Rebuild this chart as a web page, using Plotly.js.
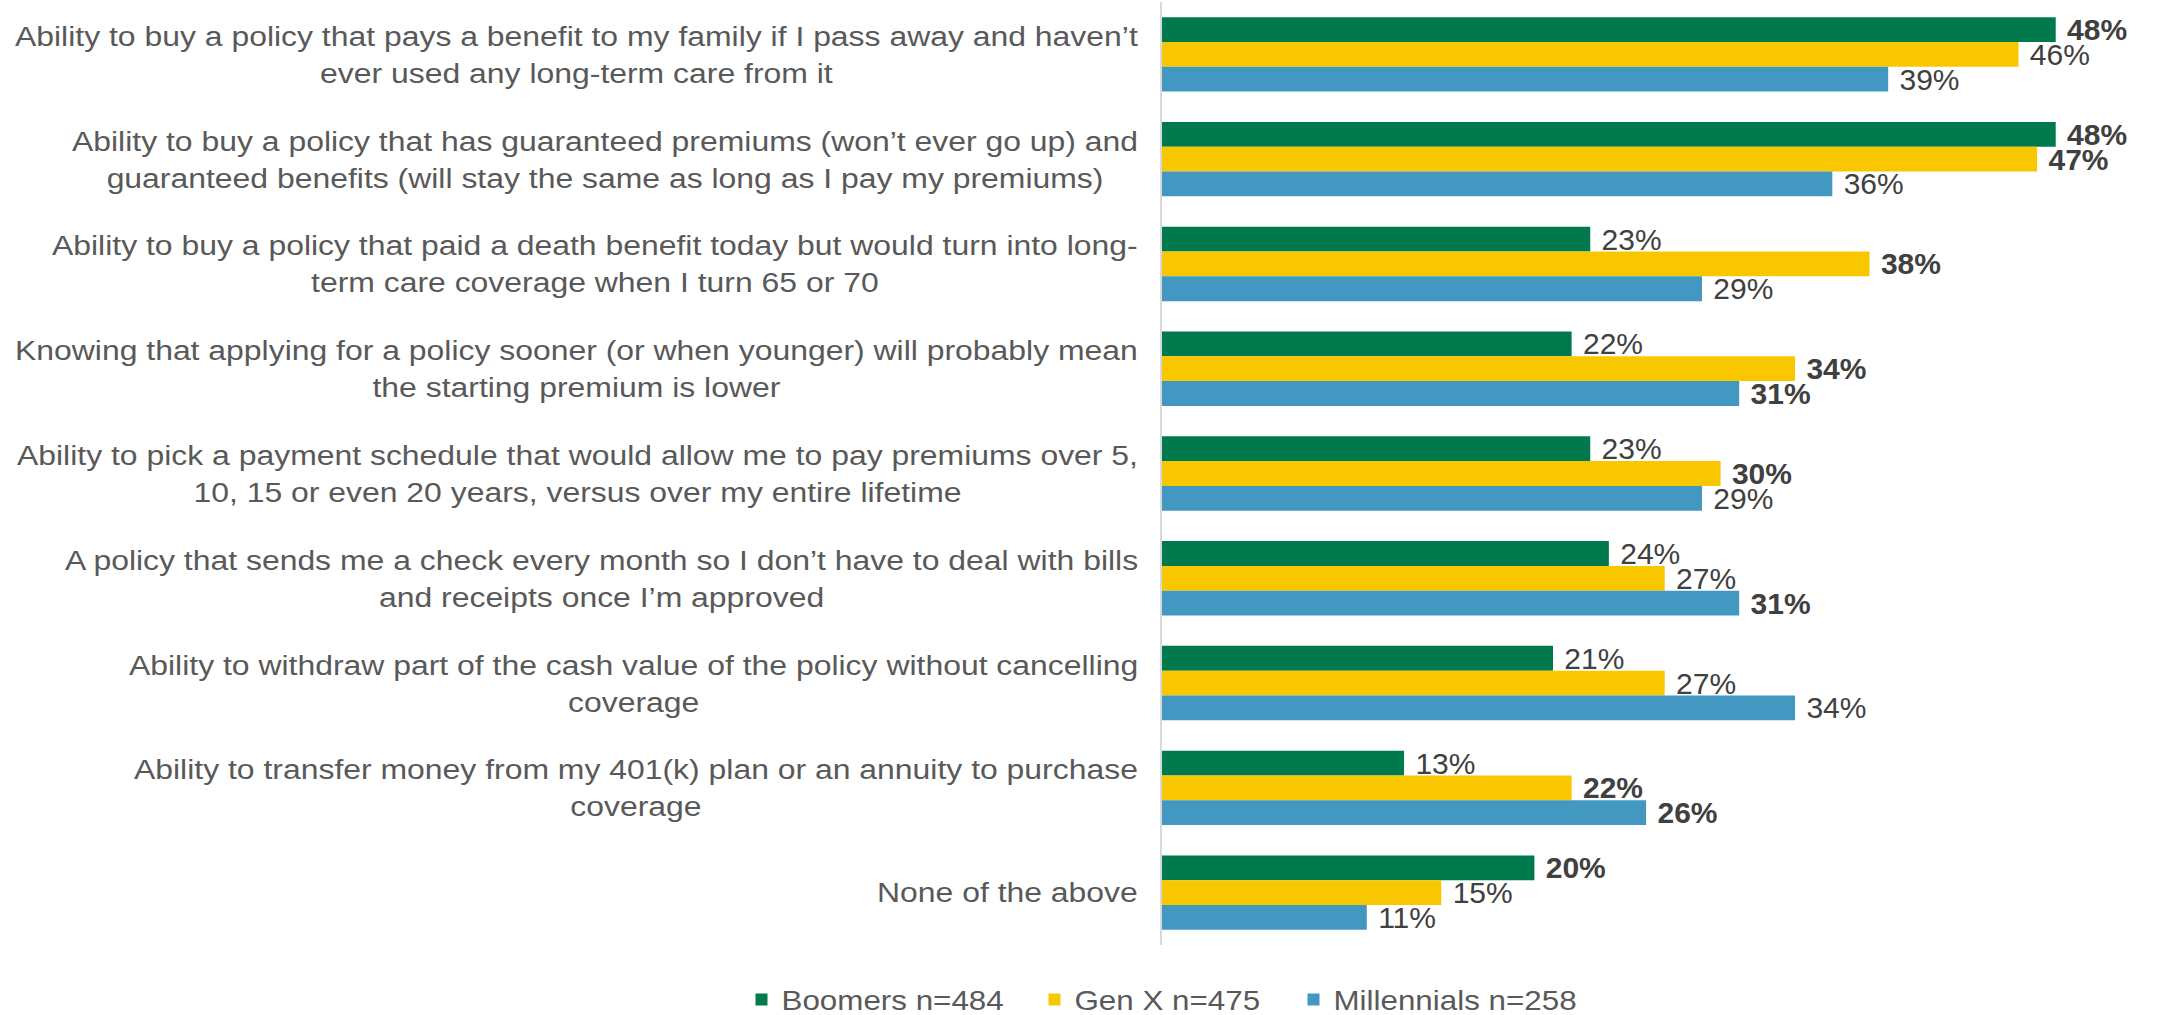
<!DOCTYPE html>
<html>
<head>
<meta charset="utf-8">
<script src="https://cdn.plot.ly/plotly-3.0.1.min.js"></script>
<style>
  html, body { margin: 0; padding: 0; background: #ffffff; }
  #chart { width: 2160px; height: 1015px; }
  .annotation-text { transform-box: fill-box; transform-origin: 50% 50%; transform: scaleX(1.14); }
  .legendtext { transform-box: fill-box; transform-origin: 0% 50%; transform: scaleX(1.12); }
</style>
</head>
<body>
<div id="chart"></div>
<script>
const categories = [
  "Ability to buy a policy that pays a benefit to my family if I pass away and haven’t<br>ever used any long-term care from it",
  "Ability to buy a policy that has guaranteed premiums (won’t ever go up) and<br>guaranteed benefits (will stay the same as long as I pay my premiums)",
  "Ability to buy a policy that paid a death benefit today but would turn into long-<br>term care coverage when I turn 65 or 70",
  "Knowing that applying for a policy sooner (or when younger) will probably mean<br>the starting premium is lower",
  "Ability to pick a payment schedule that would allow me to pay premiums over 5,<br>10, 15 or even 20 years, versus over my entire lifetime",
  "A policy that sends me a check every month so I don’t have to deal with bills<br>and receipts once I’m approved",
  "Ability to withdraw part of the cash value of the policy without cancelling<br>coverage",
  "Ability to transfer money from my 401(k) plan or an annuity to purchase<br>coverage",
  "None of the above"
];

const seriesNames = ["Boomers n=484", "Gen X n=475", "Millennials n=258"];

const boomers     = [48, 48, 23, 22, 23, 24, 21, 13, 20];
const genX        = [46, 47, 38, 34, 30, 27, 27, 22, 15];
const millennials = [39, 36, 29, 31, 29, 31, 34, 26, 11];

// which data labels are shown in bold in the original
const boomersBold     = [true,  true,  false, false, false, false, false, false, true ];
const genXBold        = [false, true,  true,  true,  true,  false, false, true,  false];
const millennialsBold = [false, false, false, true,  false, true,  false, true,  false];

const colors = ["#007A4C", "#F8C700", "#4398C1"];
const legendWidths = [248, 214, null];

function labels(vals, bold) {
  return vals.map((v, i) => bold[i] ? "\u00a0<b>" + v + "%</b>" : "\u00a0" + v + "%");
}

const seriesVals = [boomers, genX, millennials];
const seriesBold = [boomersBold, genXBold, millennialsBold];

const traces = seriesVals.map((vals, k) => {
  const t = {
    type: "bar",
    orientation: "h",
    name: seriesNames[k],
    x: vals,
    y: categories,
    text: labels(vals, seriesBold[k]),
    textposition: "outside",
    constraintext: "none",
    cliponaxis: false,
    textfont: { family: "Liberation Sans, Arial, sans-serif", size: 30, color: "#404040" },
    marker: { color: colors[k], line: { width: 0 } },
    hoverinfo: "skip"
  };
  if (legendWidths[k]) t.legendwidth = legendWidths[k];
  return t;
});

const annotations = categories.map(c => ({
  xref: "paper", yref: "y",
  x: 0, y: c,
  xanchor: "right", yanchor: "middle",
  xshift: -22,
  align: "center",
  showarrow: false,
  text: c,
  font: { family: "Liberation Sans, Arial, sans-serif", size: 28, color: "#595959" }
}));

const layout = {
  width: 2160,
  height: 1015,
  margin: { l: 1162, r: 0, t: 2, b: 70, autoexpand: false },
  paper_bgcolor: "#ffffff",
  plot_bgcolor: "#ffffff",
  barmode: "group",
  bargap: 0.29,
  bargroupgap: 0,
  showlegend: true,
  legend: {
    orientation: "h",
    xref: "paper", yref: "container",
    x: 0, xanchor: "center",
    y: 0.015, yanchor: "middle",
    font: { family: "Liberation Sans, Arial, sans-serif", size: 28, color: "#595959" },
    itemwidth: 30,
    traceorder: "normal"
  },
  xaxis: {
    range: [0, 53.6],
    showgrid: false,
    zeroline: false,
    showline: false,
    showticklabels: false,
    ticks: ""
  },
  yaxis: {
    autorange: "reversed",
    showgrid: false,
    zeroline: false,
    showline: true,
    linecolor: "#d9d9d9",
    linewidth: 2,
    showticklabels: false,
    ticks: ""
  },
  annotations: annotations
};

Plotly.newPlot("chart", traces, layout, { displayModeBar: false, staticPlot: true });
</script>
</body>
</html>
